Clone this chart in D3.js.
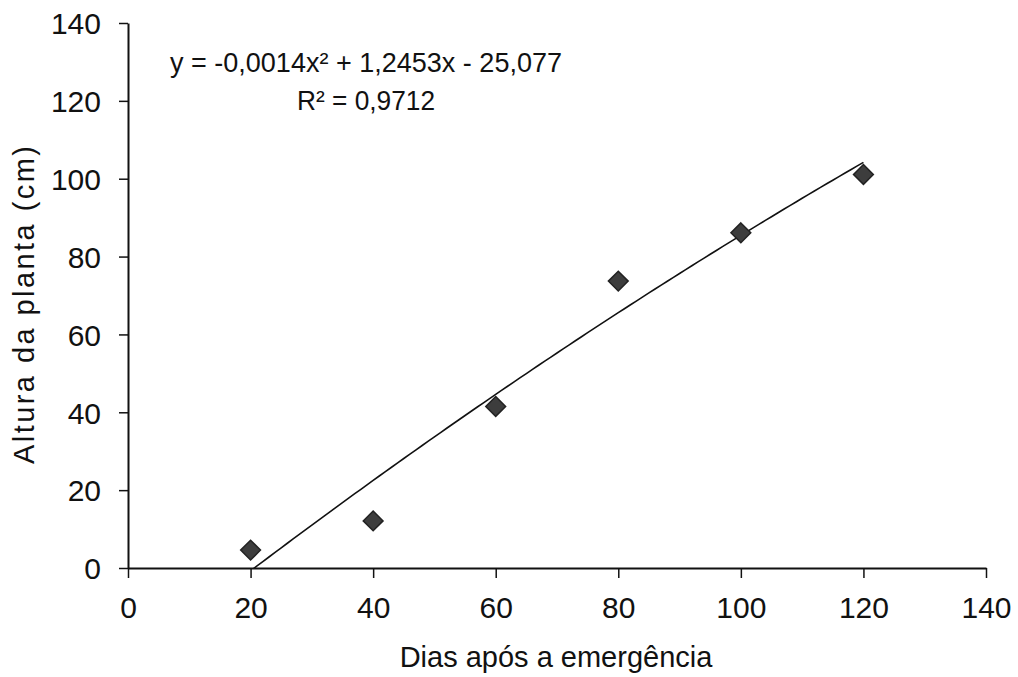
<!DOCTYPE html>
<html>
<head>
<meta charset="utf-8">
<script src="https://cdn.jsdelivr.net/npm/d3@7"></script>
<style>
  html, body { margin:0; padding:0; background:#fff; }
  svg text { font-family: "Liberation Sans", Arial, sans-serif; fill:#111; }
</style>
</head>
<body>
<svg id="chart" width="1018" height="677"></svg>
<script>
  // dados
  var dias = [20, 40, 60, 80, 100, 120];
  var altura = [4.6, 12.1, 41.5, 73.7, 86.1, 101.1];
  var xTicks = [0, 20, 40, 60, 80, 100, 120, 140];
  var yTicks = [0, 20, 40, 60, 80, 100, 120, 140];
  // coeficientes da linha de tendência (a, b, c) -> y = a x² + b x + c
  var coef = [-0.0014, 1.2453, -25.077];
  var eqLabel = 'y = -0,0014x² + 1,2453x - 25,077';
  var r2Label = 'R² = 0,9712';
  var xTitle = 'Dias após a emergência';
  var yTitle = 'Altura da planta  (cm)';

  var svg = d3.select('#chart');
  var x = d3.scaleLinear().domain([0, 140]).range([128, 986]);
  var y = d3.scaleLinear().domain([0, 140]).range([568, 23]);

  // eixos
  var xAxis = svg.append('g').attr('transform', 'translate(0,' + y(0) + ')')
    .call(d3.axisBottom(x).tickValues(xTicks).tickSize(10).tickPadding(19).tickSizeOuter(0));
  var yAxis = svg.append('g').attr('transform', 'translate(' + x(0) + ',0)')
    .call(d3.axisLeft(y).tickValues(yTicks).tickSize(9).tickPadding(18).tickSizeOuter(0));
  [xAxis, yAxis].forEach(function(g){
    g.select('.domain').attr('stroke', '#111').attr('stroke-width', 2);
    g.selectAll('.tick line').attr('stroke', '#111').attr('stroke-width', 1.5);
    g.selectAll('.tick text').attr('font-size', 30).attr('fill', '#111');
  });
  yAxis.selectAll('.tick text').attr('dy', '0.36em');

  // linha de tendência
  svg.append('clipPath').attr('id', 'plotclip')
    .append('rect').attr('x', x(0)).attr('y', y(140)).attr('width', x(140) - x(0)).attr('height', y(0) - y(140));
  var trend = d3.range(dias[0], dias[dias.length - 1] + 0.5, 1).map(function(d){
    return [d, coef[0] * d * d + coef[1] * d + coef[2]];
  });
  svg.append('path')
    .datum(trend)
    .attr('clip-path', 'url(#plotclip)')
    .attr('fill', 'none')
    .attr('stroke', '#111')
    .attr('stroke-width', 1.6)
    .attr('d', d3.line().x(function(d){ return x(d[0]); }).y(function(d){ return y(d[1]); }));

  // pontos (losangos)
  var diamond = d3.symbol().type(d3.symbolDiamond2).size(250);
  svg.append('g').selectAll('path')
    .data(dias.map(function(d, i){ return [d, altura[i]]; }))
    .enter().append('path')
    .attr('d', diamond)
    .attr('transform', function(d){ return 'translate(' + x(d[0]) + ',' + y(d[1]) + ')'; })
    .attr('fill', '#3d3d3d')
    .attr('stroke', '#222')
    .attr('stroke-width', 1.5);

  // equação
  svg.append('text').attr('x', 366).attr('y', 72).attr('text-anchor', 'middle')
    .attr('font-size', 28).attr('textLength', 392).attr('lengthAdjust', 'spacingAndGlyphs')
    .text(eqLabel);
  svg.append('text').attr('x', 366).attr('y', 110).attr('text-anchor', 'middle')
    .attr('font-size', 28).attr('textLength', 138).attr('lengthAdjust', 'spacingAndGlyphs')
    .text(r2Label);

  // títulos dos eixos
  svg.append('text').attr('x', 556).attr('y', 667).attr('text-anchor', 'middle')
    .attr('font-size', 29).text(xTitle);
  svg.append('text').attr('transform', 'translate(34,305) rotate(-90)').attr('text-anchor', 'middle')
    .attr('font-size', 29).attr('textLength', 318).attr('lengthAdjust', 'spacing')
    .text(yTitle);
</script>
</body>
</html>
